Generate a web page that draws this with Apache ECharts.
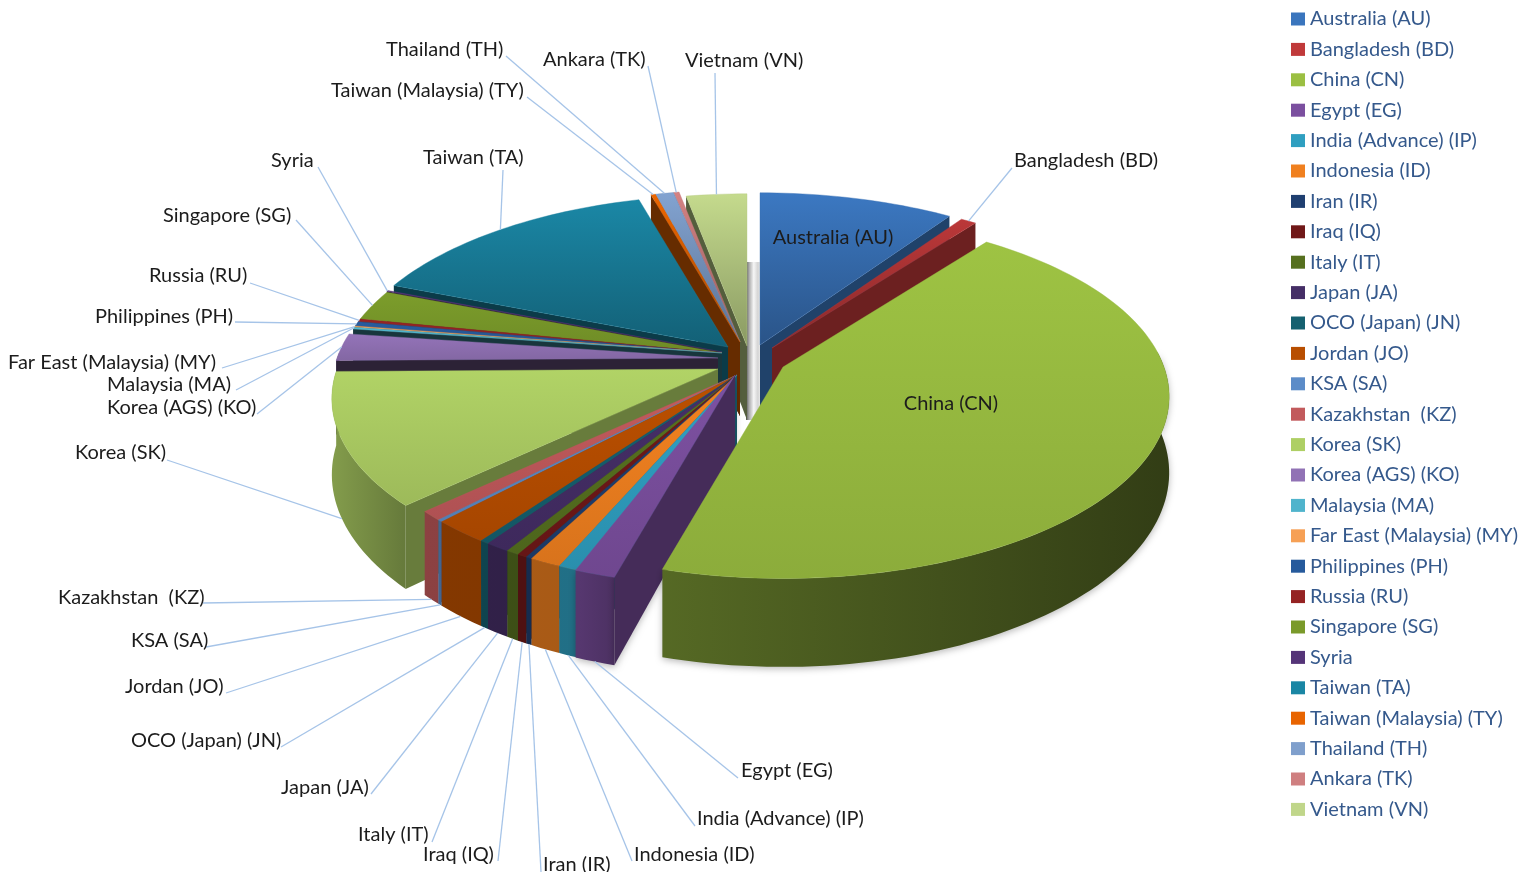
<!DOCTYPE html>
<html><head><meta charset="utf-8">
<style>html,body{margin:0;padding:0;background:#fff}#c{width:1538px;height:872px}</style>
<script src="https://cdn.jsdelivr.net/npm/echarts@6/dist/echarts.min.js"></script>
</head><body><div id="c"></div>
<script>
const names = ['Australia (AU)','Bangladesh (BD)','China (CN)','Egypt (EG)','India (Advance) (IP)','Indonesia (ID)','Iran (IR)','Iraq (IQ)','Italy (IT)','Japan (JA)','OCO (Japan) (JN)','Jordan (JO)','KSA (SA)','Kazakhstan  (KZ)','Korea (SK)','Korea (AGS) (KO)','Malaysia (MA)','Far East (Malaysia) (MY)','Philippines (PH)','Russia (RU)','Singapore (SG)','Syria','Taiwan (TA)','Taiwan (Malaysia) (TY)','Thailand (TH)','Ankara (TK)','Vietnam (VN)'];
const values = [9.54,0.77,43.99,1.47,0.72,1.14,0.22,0.36,0.47,0.89,0.33,2.06,0.19,0.83,11.80,2.44,0.17,0.11,0.42,0.25,2.75,0.08,14.64,0.22,0.89,0.28,2.97];
const colors = ['#3a75bd','#c0393a','#9bbf42','#7b4f9f','#2f9fc0','#f0801f','#1f3f70','#701818','#56701f','#452e66','#15606f','#b84e00','#5c8cc8','#c25a5c','#aecf64','#9172b5','#50b4cc','#f6a055','#265a9c','#952323','#7a9a2a','#553478','#1a86a4','#e86400','#7f9fcc','#cf7f80','#c0d68a'];
// layout: pull-out apex of each slice, paint order, label placement
const apexX = [760,772,783,735,737,737,737,737,737,737,737,737,737,737,718,718,722,722,722,722,722,722,728,740,740,740,747];
const apexY = [345,348,367,375,375,375,375,375,375,375,375,375,375,375,369,358,353,353,353,353,353,352,347,342,342,342,346];
const paintOrder = [26,25,24,23,22,21,20,19,18,17,16,15,14,13,12,11,10,9,8,7,6,5,4,3,0,1,2];
const labelX = [833,1014,951,741,697,634,543,423,358,281,131,125,131,58,75,107,107,8,95,149,163,271,423,331,386,543,685];
const labelY = [238,161,404,771,819,855,865,855,835,788,741,687,641,598,453,408,385,363,317,276,216,161,158,91,50,60,61];
const lineFromX = [null,1012,null,738,695,632,541,498,432,371,281,226,206,203,167,257,236,222,235,250,296,318,503,527,506,648,715];
const lineFromY = [null,168,null,778,826,861,872,861,842,794,747,693,647,603,460,414,390,368,322,283,220,167,170,97,56,66,73];
const R = 381, Rt = 177, K = 0.163, DEPTH = 74;

const total = values.reduce((a,b)=>a+b,0);
const starts = []; let acc = 0;
values.forEach(v=>{starts.push(acc/total*360); acc+=v;});
const rad = d=>d*Math.PI/180;
function rim(i,deg,down){
  const c=Math.cos(rad(deg)), s=1/(1+K*c);
  return [apexX[i]+R*Math.sin(rad(deg))*s, apexY[i]-Rt*c*s+(down?DEPTH*s:0)];
}
function shade(hex,f){
  const n=parseInt(hex.slice(1),16);
  const ch=[n>>16,(n>>8)&255,n&255].map(v=>Math.min(255,Math.round(v*f)));
  return `rgb(${ch.join(',')})`;
}
function arcPts(i,a,b,down){
  const pts=[], n=Math.max(1,Math.ceil((b-a)/1.5));
  for(let k=0;k<=n;k++) pts.push(rim(i,a+(b-a)*k/n,down));
  return pts;
}
function wallFill(col){
  const x=v=>(v-330)/840;
  return new echarts.graphic.LinearGradient(330,0,1170,0,[
    {offset:0,color:shade(col,.76)},{offset:x(418),color:shade(col,.56)},{offset:x(421),color:shade(col,.72)},
    {offset:x(580),color:shade(col,.70)},{offset:x(640),color:shade(col,.56)},{offset:1,color:shade(col,.32)}],true);
}
function radialFactor(deg){
  if(deg>=280) return .44;
  if(deg>=265) return .3;
  if(deg>=205) return .6;
  return .56;
}
function topFill(i,mid){
  const col=colors[i];
  if(mid>295||mid<36){
    return new echarts.graphic.LinearGradient(0,190,0,apexY[i],[{offset:0,color:shade(col,1.03)},{offset:1,color:shade(col,.72)}],true);
  }
  return new echarts.graphic.LinearGradient(0,0,0,1,[{offset:0,color:shade(col,1.02)},{offset:1,color:shade(col,.9)}]);
}
function poly(points,fill,stroke,shadow){
  const style={fill,stroke:stroke||'none',lineWidth:stroke?.4:0};
  if(shadow){style.shadowBlur=7;style.shadowColor='rgba(0,0,0,.28)';style.shadowOffsetY=2;}
  return {type:'polygon',shape:{points},style};
}
function sliceItem(i){
  const a=starts[i], b=a+values[i]/total*360, col=colors[i], wf=wallFill(col), kids=[];
  const ax=apexX[i], ay=apexY[i], apex=[ax,ay], apexD=[ax,ay+DEPTH];
  const wa=Math.max(a,85), wb=Math.min(b,272);
  if(wb>wa) kids.push(poly(arcPts(i,wa,wb,false).concat(arcPts(i,wa,wb,true).reverse()),wf,null,b-a>100||(a>190&&a<200)));
  if(Math.sin(rad(a))<0) kids.push(poly([apex,rim(i,a,false),rim(i,a,true),apexD],shade(col,radialFactor(a)),null,a>190&&a<200));
  if(Math.sin(rad(b))>0) kids.push(poly([apex,rim(i,b,false),rim(i,b,true),apexD],shade(col,radialFactor(b))));
  kids.push(poly([apex].concat(arcPts(i,a,b,false)),topFill(i,(a+b)/2),shade(col,.95)));
  return {type:'group',children:kids};
}
const series = paintOrder.map((i,pos)=>({
  type:'custom',name:names[i],coordinateSystem:'none',z:3+pos,silent:true,animation:false,
  itemStyle:{color:colors[i]},legendIcon:'rect',
  data:[[values[i]]],
  renderItem:()=>sliceItem(i)
}));
const FONT='Lato, "Open Sans", sans-serif';
series.push({
  type:'custom',name:'labels',coordinateSystem:'none',z:60,silent:true,animation:false,
  data:names.map((n,i)=>[i]),
  renderItem:(p,api)=>{
    const i=api.value(0), kids=[];
    if(lineFromX[i]!==null){
      const mid=starts[i]+values[i]/total*180, front=mid>90&&mid<270;
      const e=rim(i,mid,front);
      kids.push({type:'line',shape:{x1:lineFromX[i],y1:lineFromY[i],x2:e[0],y2:e[1]},style:{stroke:'#a6c4e8',lineWidth:1.3}});
    }
    const inside=lineFromX[i]===null;
    kids.push({type:'text',style:{text:names[i],x:labelX[i],y:labelY[i],align:inside?'center':'left',verticalAlign:'middle',fill:'#1c1c1c',fontFamily:FONT,fontSize:20}});
    return {type:'group',children:kids};
  }
});
const chart=echarts.init(document.getElementById('c'),null,{renderer:'canvas'});
chart.setOption({
  backgroundColor:'#fff',animation:false,
  graphic:[{type:'rect',z:1,shape:{x:746,y:262,width:14,height:158},
    style:{fill:new echarts.graphic.LinearGradient(0,0,1,0,[{offset:0,color:'#555'},{offset:.22,color:'#aaa'},{offset:.55,color:'#f6f6f6'},{offset:.85,color:'#d4d4d4'},{offset:1,color:'#e8e8e8'}])}}],
  legend:{orient:'vertical',left:1286,top:4,itemWidth:14,itemHeight:13,itemGap:10.4,icon:'rect',selectedMode:false,
    data:names,textStyle:{color:'#35598c',fontFamily:FONT,fontSize:20,lineHeight:20},itemStyle:{borderWidth:0}},
  series
});
</script></body></html>
